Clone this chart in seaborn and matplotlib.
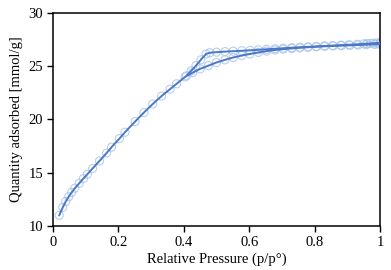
import matplotlib
matplotlib.use("Agg")
import matplotlib.pyplot as plt
import seaborn as sns
import pandas as pd

# adsorption branch
ads_x = [0.019, 0.030, 0.039, 0.048, 0.057, 0.067, 0.080, 0.093, 0.105, 0.121,
         0.142, 0.164, 0.179, 0.203, 0.220, 0.251, 0.278, 0.305, 0.332, 0.358,
         0.378, 0.404, 0.427, 0.450, 0.475, 0.500, 0.526, 0.551, 0.577, 0.602,
         0.628, 0.653, 0.679, 0.704, 0.730, 0.755, 0.780, 0.806, 0.831, 0.857,
         0.882, 0.908, 0.933, 0.958, 0.984, 0.998]
ads_y = [11.0, 11.75, 12.3, 12.75, 13.15, 13.55, 14.0, 14.45, 14.85, 15.4,
         16.1, 16.85, 17.4, 18.2, 18.8, 19.8, 20.65, 21.45, 22.2, 22.85,
         23.35, 24.0, 24.4, 24.75, 25.05, 25.35, 25.6, 25.82, 26.0, 26.15,
         26.3, 26.42, 26.52, 26.6, 26.67, 26.73, 26.78, 26.83, 26.87, 26.9,
         26.93, 26.96, 26.99, 27.02, 27.05, 27.07]

# desorption branch
des_x = [1.000, 0.990, 0.980, 0.970, 0.960, 0.950, 0.930, 0.905, 0.880, 0.855,
         0.830, 0.805, 0.780, 0.755, 0.730, 0.704, 0.679, 0.653, 0.628, 0.602,
         0.577, 0.551, 0.526, 0.500, 0.480, 0.468, 0.452, 0.437, 0.422, 0.408]
des_y = [27.2, 27.18, 27.16, 27.14, 27.12, 27.1, 27.06, 27.02, 26.98, 26.94,
         26.9, 26.86, 26.82, 26.78, 26.74, 26.69, 26.64, 26.59, 26.54, 26.49,
         26.45, 26.41, 26.37, 26.32, 26.27, 26.15, 25.6, 25.05, 24.55, 24.1]

ads = pd.DataFrame({"p": ads_x, "q": ads_y})
des = pd.DataFrame({"p": des_x, "q": des_y})

sns.set_style("white")
plt.rcParams["font.family"] = ["Liberation Serif", "DejaVu Serif"]
plt.rcParams["font.size"] = 10.5
plt.rcParams["text.color"] = "black"
plt.rcParams["axes.labelcolor"] = "black"
plt.rcParams["xtick.color"] = "black"
plt.rcParams["ytick.color"] = "black"

fig = plt.figure(figsize=(3.91, 2.70), dpi=100)
ax = fig.add_axes([0.1355, 0.163, 0.8365, 0.789])

line_c = "#4a78c6"
mark_c = "#a9c2ea"

for df in (ads, des):
    sns.scatterplot(data=df, x="p", y="q", ax=ax, marker="o", s=34,
                    facecolors="none", edgecolor=mark_c, linewidth=0.8,
                    alpha=0.8, zorder=2)
    sns.lineplot(data=df, x="p", y="q", ax=ax, sort=False, color=line_c,
                 linewidth=1.4, zorder=3)

ax.set_xlim(0, 1)
ax.set_ylim(10, 30)
ax.set_xticks([0, 0.2, 0.4, 0.6, 0.8, 1])
ax.set_xticklabels(["0", "0.2", "0.4", "0.6", "0.8", "1"])
ax.set_yticks([10, 15, 20, 25, 30])
ax.set_xlabel("Relative Pressure (p/p°)", fontsize=10.5, labelpad=3)
ax.set_ylabel("Quantity adsorbed [mmol/g]", fontsize=10.5, labelpad=4)

for s in ax.spines.values():
    s.set_color("black")
    s.set_linewidth(1.1)
ax.tick_params(axis="both", direction="out", length=4, width=1, color="black",
               bottom=True, left=True, top=False, right=False, labelsize=10.5,
               pad=3)

fig.savefig("out.png", dpi=100)
